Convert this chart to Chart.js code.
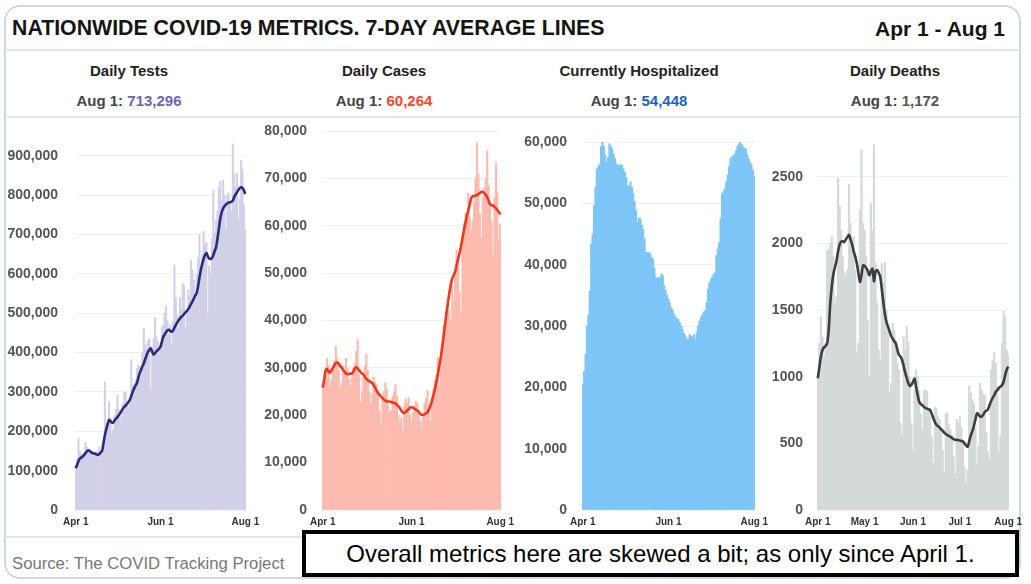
<!DOCTYPE html>
<html>
<head>
<meta charset="utf-8">
<script src="https://cdn.jsdelivr.net/npm/chart.js@4.4.0/dist/chart.umd.min.js"></script>
<style>
  body { margin: 0; background: #fff; font-family: "Liberation Sans", Arial, sans-serif; }
  #wrap { position: relative; width: 1031px; height: 584px; overflow: hidden; }
  .abs { position: absolute; white-space: nowrap; }
  #frame { left: 4px; top: 5px; width: 1017px; height: 574px; box-sizing: border-box;
           border: 2px solid #cfd7df; border-radius: 16px; }
  .hr { position: absolute; left: 5px; width: 1015px; height: 2px; background: #e2e5e9; }
  #title { left: 12px; top: 18px; font-size: 21.3px; line-height: 21px; font-weight: bold; color: #151515; }
  #range { right: 26px; top: 18px; font-size: 21px; line-height: 21px; font-weight: bold; color: #151515; }
  .head { width: 256px; text-align: center; font-size: 15px; line-height: 15px; font-weight: bold; color: #222; top: 63px; }
  .val { width: 256px; text-align: center; font-size: 15px; line-height: 15px; font-weight: bold; color: #444; top: 93px; }
  canvas { position: absolute; top: 118px; }
  #source { left: 12px; top: 555px; font-size: 16.7px; line-height: 17px; color: #777; }
  #note { left: 302px; top: 530px; width: 717px; height: 47px; box-sizing: border-box; border: 4px solid #000;
          background: #fff; display: flex; align-items: center; justify-content: center;
          font-size: 24px; color: #000; }
</style>
</head>
<body>
<div id="wrap">
  <div id="frame" class="abs"></div>
  <div id="title" class="abs">NATIONWIDE COVID-19 METRICS. 7-DAY AVERAGE LINES</div>
  <div id="range" class="abs">Apr 1 - Aug 1</div>
  <div class="hr" style="top:49px"></div>
  <div class="hr" style="top:116px"></div>
  <div class="hr" style="top:536px"></div>

  <div class="abs head" style="left:1px">Daily Tests</div>
  <div class="abs head" style="left:256px">Daily Cases</div>
  <div class="abs head" style="left:511px">Currently Hospitalized</div>
  <div class="abs head" style="left:767px">Daily Deaths</div>
  <div class="abs val" style="left:1px">Aug 1: <span style="color:#6b63b5">713,296</span></div>
  <div class="abs val" style="left:256px">Aug 1: <span style="color:#f2482f">60,264</span></div>
  <div class="abs val" style="left:511px">Aug 1: <span style="color:#1f5fbf">54,448</span></div>
  <div class="abs val" style="left:767px">Aug 1: <span style="color:#555">1,172</span></div>

  <canvas id="tests" width="270" height="417" style="left:0px"></canvas>
  <canvas id="cases" width="268" height="417" style="left:256px"></canvas>
  <canvas id="hosp" width="268" height="417" style="left:510px"></canvas>
  <canvas id="deaths" width="267" height="417" style="left:764px"></canvas>

  <div id="source" class="abs">Source: The COVID Tracking Project</div>
  <div id="note" class="abs">Overall metrics here are skewed a bit; as only since April 1.</div>
</div>

<script>
// days Apr 1 .. Aug 1
var months = [["Apr", 30], ["May", 31], ["Jun", 30], ["Jul", 31], ["Aug", 1]];
var days = [];
months.forEach(function (m) {
  for (var d = 1; d <= m[1]; d++) days.push(m[0] + " " + d);
});

var ticksShort = ["Apr 1", "Jun 1", "Aug 1"];
var ticksMonthly = ["Apr 1", "May 1", "Jun 1", "Jul 1", "Aug 1"];

var testsTicks = [0, 100000, 200000, 300000, 400000, 500000, 600000, 700000, 800000, 900000];
var casesTicks = [0, 10000, 20000, 30000, 40000, 50000, 60000, 70000, 80000];
var hospTicks = [0, 10000, 20000, 30000, 40000, 50000, 60000];
var deathsTicks = [0, 500, 1000, 1500, 2000, 2500];

//Daily tests
var testsDaily = [
  105000, 130000, 182000, 150000, 138000, 140000, 145000, 172000, 160000, 150000,
  155000, 142000, 140000, 135000, 148000, 150000, 145000, 160000, 150000, 140000,
  148000, 325000, 220000, 210000, 275000, 230000, 195000, 205000, 240000, 255000,
  292000, 255000, 235000, 240000, 270000, 300000, 298000, 265000, 260000, 280000,
  382000, 318000, 300000, 330000, 360000, 368000, 365000, 335000, 400000, 462000,
  420000, 410000, 430000, 435000, 305000, 395000, 435000, 488000, 440000, 430000, 395000,
  420000, 465000, 470000, 500000, 518000, 480000, 445000, 470000, 423000, 480000,
  622000, 540000, 495000, 460000, 540000, 510000, 575000, 570000, 465000, 500000,
  560000, 545000, 635000, 610000, 585000, 530000, 600000, 640000, 700000, 620000,
  650000, 708000, 675000, 680000, 500000, 620000, 600000, 690000, 813000, 705000,
  735000, 760000, 820000, 835000, 785000, 838000, 800000, 710000, 800000, 805000,
  780000, 760000, 930000, 855000, 820000, 855000, 740000, 790000, 888000, 865000, 775000,
  713296
];
var testsAvg = [
  106000, 115000, 124000, 131000, 133000, 136000, 140000, 144000, 149000, 152000,
  150000, 147000, 145000, 144000, 143000, 141000, 140000, 142000, 146000, 150000,
  170000, 190000, 205000, 218000, 229000, 226000, 222000, 222000, 228000, 232000,
  236000, 241000, 246000, 252000, 258000, 262000, 266000, 270000, 275000, 280000,
  290000, 300000, 309000, 316000, 322000, 335000, 347000, 356000, 365000, 373000,
  383000, 393000, 402000, 407000, 411000, 402000, 395000, 398000, 403000, 406000, 410000,
  415000, 428000, 440000, 446000, 452000, 457000, 458000, 455000, 453000, 456000,
  463000, 470000, 476000, 482000, 487000, 491000, 494000, 498000, 502000, 506000,
  511000, 517000, 524000, 530000, 537000, 545000, 551000, 568000, 590000, 610000,
  625000, 638000, 648000, 653000, 645000, 639000, 638000, 640000, 648000, 658000,
  668000, 690000, 715000, 740000, 756000, 766000, 772000, 776000, 779000, 781000,
  782000, 783000, 786000, 795000, 802000, 807000, 813000, 818000, 820000, 818000, 812000,
  803000
];

//Daily cases
var casesDaily = [
  25500, 26800, 29000, 32000, 30500, 26000, 27500, 29800, 31500, 34500,
  32000, 29500, 25500, 26800, 30500, 29000, 32000, 30000, 27500, 26000,
  28000, 30000, 31000, 33500, 36000, 28500, 22800, 25000, 28000, 30500,
  33000, 29500, 25000, 22500, 24500, 28000, 27000, 26500, 25000, 21000,
  18200, 23500, 25000, 26900, 25500, 22000, 20500, 21000, 24000, 25000,
  26500, 24000, 20000, 18500, 19500, 16800, 22000, 23500, 22500, 23700, 20000,
  18500, 20500, 22000, 23000, 22500, 20000, 19000, 17000, 20000, 22500,
  23500, 25300, 21500, 18800, 22000, 25500, 27500, 28500, 32200, 26000,
  31000, 34500, 38900, 38000, 40000, 44600, 42000, 40000, 47500, 44000,
  50500, 54900, 52500, 46000, 41800, 58000, 60500, 62700, 61000, 66900,
  62000, 59000, 61000, 65000, 70000, 77500, 71000, 62500, 57300, 66000,
  68000, 70000, 75800, 68500, 64000, 61000, 53800, 66000, 73300, 67000, 57000,
  60264
];
var casesAvg = [
  25800, 27500, 29500, 29800, 29200, 29000, 29500, 30000, 30600, 31000,
  31100, 30900, 30400, 30000, 29600, 29200, 28800, 28700, 28700, 28800,
  28800, 29200, 29800, 30100, 29900, 29500, 29100, 28800, 28600, 28100,
  27700, 27400, 27200, 27000, 26800, 26300, 25800, 25200, 24700, 24300,
  24000, 23600, 23300, 23100, 22900, 22900, 22900, 22800, 22700, 22600,
  22500, 22200, 21900, 21500, 21000, 20600, 20500, 20700, 21000, 21300, 21600,
  21700, 21600, 21400, 21200, 21000, 20700, 20300, 20100, 20100, 20200,
  20400, 20700, 21200, 22000, 23000, 24200, 25400, 26800, 28500, 30300,
  32000, 34200, 36500, 39000, 41500, 43700, 45800, 47600, 48900, 49600,
  50300, 51700, 53000, 54200, 55600, 57300, 59000, 60500, 62000, 63200,
  64500, 65800, 66200, 66300, 66400, 66500, 66700, 66900, 67200, 67100,
  66900, 66500, 66000, 65300, 64500, 64300, 64300, 64000, 63700, 63300, 62900,
  62400
];

//Currently hospitalized
var hospDaily = [
  20500, 22600, 25400, 30000, 31800, 35700, 43400, 45000, 49600, 52600,
  55600, 56000, 56400, 59200, 60000, 59300, 58000, 56700, 57500, 59700,
  59300, 58900, 58000, 57300, 56500, 56200, 56200, 56300, 56200, 55600,
  55100, 54200, 52900, 52800, 53500, 52600, 51600, 50300, 48800, 46900,
  47600, 47500, 46500, 45800, 44200, 42000, 42000, 42000, 41800, 41200,
  40900, 39500, 37900, 37800, 37900, 37900, 38500, 38200, 36600, 35800, 35000,
  34400, 33800, 33000, 32600, 31900, 31500, 31200, 31100, 30600, 30000,
  29500, 28800, 28400, 27900, 27800, 28600, 28400, 28200, 28600, 27900,
  28900, 30000, 30800, 31400, 31800, 32300, 32500, 33800, 36000, 37000,
  37600, 38000, 38500, 38700, 41500, 42600, 43600, 47500, 51600, 51900,
  52400, 53500, 54600, 56000, 57300, 57600, 57800, 58000, 58600, 59300,
  59700, 60000, 59600, 59200, 59000, 58900, 58000, 57300, 56800, 56300, 55400,
  54448
];

//Daily deaths
var deathsDaily = [
  1000, 1250, 1450, 1300, 1150, 1250, 1950, 1950, 2000, 2050,
  1900, 1550, 1600, 2490, 2280, 2100, 1900, 1780, 1750, 1800,
  2440, 2150, 2000, 2050, 1800, 1180, 1250, 2250, 2700, 2150,
  2100, 1900, 1420, 1000, 2300, 2100, 2740, 1850, 1550, 1200,
  1130, 1850, 1700, 1860, 1500, 1350, 880, 950, 1400, 1350,
  1270, 1100, 1050, 650, 570, 1300, 1200, 1380, 1260, 1000, 650,
  450, 900, 1050, 1000, 900, 720, 600, 900, 900, 890,
  760, 700, 550, 350, 770, 760, 700, 680, 620, 450,
  280, 720, 730, 640, 600, 560, 400, 270, 680, 650,
  700, 620, 520, 320, 210, 300, 930, 880, 830, 800,
  620, 340, 480, 950, 900, 870, 860, 580, 440, 380,
  1050, 1120, 1180, 1100, 920, 430, 560, 1250, 1490, 1450, 1200,
  1172
];
var deathsAvg = [
  988, 1070, 1150, 1200, 1220, 1230, 1250, 1350, 1550, 1680,
  1770, 1820, 1870, 1940, 1990, 2013, 2015, 2010, 2030, 2045,
  2063, 2030, 1990, 1940, 1900, 1850, 1780, 1710, 1760, 1835,
  1830, 1815, 1795, 1760, 1790, 1810, 1715, 1790, 1800, 1780,
  1750, 1660, 1560, 1470, 1410, 1375, 1340, 1305, 1285, 1265,
  1250, 1200, 1163, 1150, 1125, 1080, 1030, 990, 950, 930, 940,
  960, 985, 920, 860, 810, 795, 785, 775, 765, 760,
  755, 750, 720, 690, 660, 640, 628, 620, 605, 595,
  580, 570, 563, 555, 548, 540, 532, 527, 526, 524,
  522, 518, 513, 500, 485, 475, 515, 560, 590, 630,
  680, 725, 715, 700, 700, 715, 735, 745, 755, 785,
  815, 840, 860, 885, 900, 915, 925, 935, 960, 1010, 1050,
  1075
];

Chart.defaults.font.family = "'Liberation Sans', Arial, sans-serif";

var withCommas = function (v) { return v.toLocaleString("en-US"); };
var plain = function (v) { return String(v); };

function makePanel(id, o) {
  var datasets = [];
  if (o.avg) {
    datasets.push({
      type: "line", data: o.avg, borderColor: o.lineColor, borderWidth: 2.6,
      pointRadius: 0, tension: 0.3, fill: false, order: 0
    });
  }
  datasets.push({
    type: "bar", data: o.daily, backgroundColor: o.barColor,
    barPercentage: 1, categoryPercentage: 1, borderWidth: 0, order: 1
  });

  return new Chart(document.getElementById(id), {
    data: { labels: days, datasets: datasets },
    options: {
      responsive: false,
      animation: false,
      layout: { padding: { top: o.padTop, right: o.padRight, left: 0, bottom: 0 } },
      plugins: { legend: { display: false }, tooltip: { enabled: false } },
      scales: {
        x: {
          grid: { display: false, drawTicks: false },
          border: { display: false },
          ticks: {
            autoSkip: false, maxRotation: 0, minRotation: 0, padding: 6,
            color: "#333", font: { size: 10, weight: "bold" },
            callback: function (v, i) { return o.xTicks.indexOf(days[i]) >= 0 ? days[i] : ""; }
          },
          afterFit: function (a) { a.height = 25; a.paddingLeft = 0; a.paddingRight = 0; }
        },
        y: {
          min: 0, max: o.max,
          border: { display: false },
          grid: { color: "#efefef", drawTicks: false },
          ticks: {
            padding: o.tickPad, color: "#555",
            font: { size: 14, weight: "bold" }, callback: o.fmt
          },
          afterBuildTicks: function (a) {
            a.ticks = o.yTicks.map(function (v) { return { value: v }; });
          },
          afterFit: function (a) { a.width = o.yWidth; a.paddingTop = 0; a.paddingBottom = 0; }
        }
      }
    }
  });
}

makePanel("tests", {
  daily: testsDaily, avg: testsAvg, barColor: "#d1d0e9", lineColor: "#2c2b7b",
  max: 963000, yTicks: testsTicks, fmt: withCommas, xTicks: ticksShort,
  yWidth: 75, padTop: 13, padRight: 24, tickPad: 17
});
makePanel("cases", {
  daily: casesDaily, avg: casesAvg, barColor: "#fdbaaf", lineColor: "#f0361f",
  max: 80000, yTicks: casesTicks, fmt: withCommas, xTicks: ticksShort,
  yWidth: 66, padTop: 13, padRight: 23, tickPad: 15
});
makePanel("hosp", {
  daily: hospDaily, avg: null, barColor: "#7cc6f7", lineColor: null,
  max: 60000, yTicks: hospTicks, fmt: withCommas, xTicks: ticksShort,
  yWidth: 72, padTop: 24, padRight: 23, tickPad: 15
});
makePanel("deaths", {
  daily: deathsDaily, avg: deathsAvg, barColor: "#d4d9da", lineColor: "#3d3d3d",
  max: 2850, yTicks: deathsTicks, fmt: plain, xTicks: ticksMonthly,
  yWidth: 53, padTop: 12, padRight: 22, tickPad: 14
});
</script>
</body>
</html>
